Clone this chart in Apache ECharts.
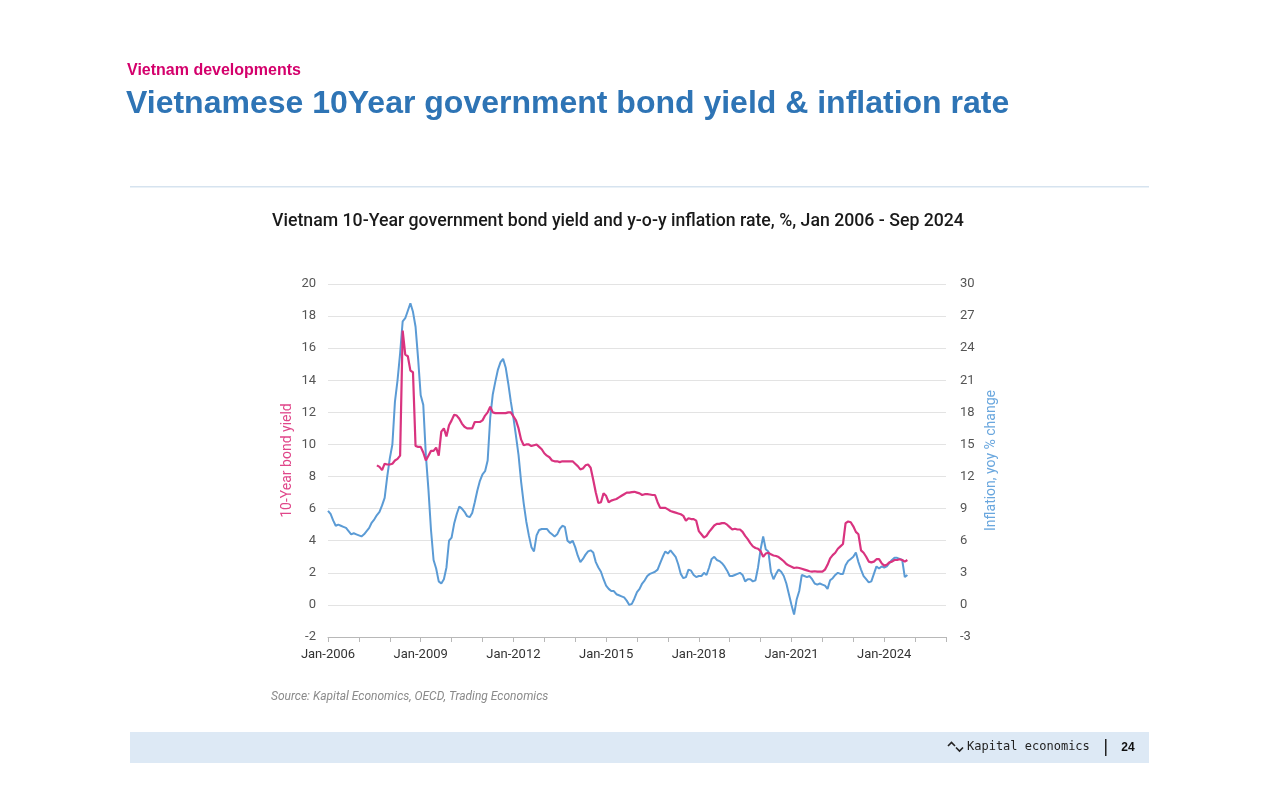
<!DOCTYPE html>
<html>
<head>
<meta charset="utf-8">
<script src="https://cdn.jsdelivr.net/npm/echarts@6/dist/echarts.min.js"></script>
<style>
html,body{margin:0;padding:0;background:#fff;}
#c{width:1280px;height:792px;}
</style>
</head>
<body>
<div id="c"></div>
<script>
// Monthly y-o-y inflation, %, starting Jan 2006
const inflationStart = [2006, 1];
const inflation = [
8.8,8.5,7.9,7.4,7.5,7.4,7.3,7.2,6.9,6.6,6.7,6.6,
6.5,6.4,6.6,6.9,7.2,7.7,8.0,8.4,8.7,9.3,10.0,12.0,
13.7,15.0,19.0,21.0,23.5,26.5,26.8,27.5,28.2,27.4,26.0,23.0,
19.6,18.7,14.0,10.8,7.0,4.2,3.4,2.2,2.0,2.4,3.5,6.0,
6.3,7.6,8.5,9.2,9.0,8.7,8.3,8.2,8.6,9.6,10.7,11.6,
12.2,12.5,13.5,17.5,19.7,20.9,22.0,22.7,23.0,22.2,20.7,19.0,
17.5,15.8,14.0,11.5,9.5,7.8,6.5,5.4,5.0,6.5,7.0,7.1,
7.1,7.1,6.8,6.6,6.4,6.6,7.1,7.4,7.3,6.0,5.8,6.0,
5.4,4.6,4.0,4.3,4.7,5.0,5.1,4.9,4.0,3.5,3.1,2.4,
1.8,1.5,1.3,1.3,1.0,0.9,0.8,0.7,0.4,0.0,0.1,0.6,
1.2,1.5,2.0,2.3,2.7,2.9,3.0,3.1,3.3,3.9,4.5,5.0,
4.8,5.1,4.8,4.5,3.8,2.9,2.5,2.6,3.3,3.2,2.8,2.6,
2.7,2.7,3.0,2.8,3.5,4.3,4.5,4.2,4.1,3.9,3.6,3.2,
2.7,2.7,2.8,2.9,3.0,2.8,2.2,2.4,2.4,2.2,2.3,3.5,
5.2,6.4,5.2,5.0,3.1,2.4,2.9,3.3,3.1,2.7,2.0,1.0,
0.0,-0.9,0.5,1.3,2.8,2.7,2.6,2.7,2.4,2.0,1.9,2.0,
1.9,1.8,1.5,2.3,2.5,2.8,3.0,2.9,2.9,3.7,4.1,4.3,
4.5,4.9,4.0,3.3,2.7,2.4,2.1,2.2,2.9,3.6,3.4,3.6,
3.5,3.6,3.9,4.2,4.4,4.4,4.3,4.2,2.6,2.8
];

// Monthly 10-year government bond yield, %, starting Aug 2007
const bondStart = [2007, 8];
const bondYield = [
8.7,8.6,8.4,8.8,8.75,
8.75,8.8,9.0,9.1,9.3,17.1,15.6,15.5,14.6,14.5,9.9,9.85,
9.85,9.5,9.0,9.3,9.6,9.6,9.8,9.3,10.8,11.0,10.5,11.2,
11.5,11.85,11.8,11.6,11.3,11.1,11.0,11.0,11.0,11.4,11.4,11.4,
11.5,11.8,12.0,12.35,12.0,11.95,11.95,11.95,11.95,11.95,12.0,12.0,
11.75,11.5,11.0,10.3,9.95,10.0,10.0,9.9,9.95,10.0,9.85,9.7,
9.45,9.3,9.2,9.0,8.95,8.95,8.9,8.95,8.95,8.95,8.95,8.95,
8.8,8.65,8.45,8.5,8.7,8.75,8.55,7.8,7.0,6.35,6.4,6.95,
6.8,6.4,6.5,6.55,6.6,6.7,6.8,6.9,7.0,7.0,7.03,7.05,
7.0,6.95,6.85,6.9,6.9,6.88,6.85,6.85,6.4,6.05,6.05,6.05,
5.95,5.85,5.8,5.75,5.7,5.65,5.55,5.25,5.4,5.35,5.35,5.25,
4.6,4.4,4.2,4.3,4.55,4.75,4.95,5.05,5.05,5.1,5.1,5.0,
4.85,4.7,4.75,4.7,4.7,4.55,4.3,4.1,3.85,3.65,3.55,3.5,
3.35,3.0,3.2,3.25,3.15,3.08,3.05,2.98,2.85,2.72,2.55,2.45,
2.38,2.3,2.33,2.3,2.25,2.2,2.15,2.1,2.07,2.1,2.07,2.07,
2.07,2.2,2.5,2.9,3.1,3.25,3.5,3.65,3.8,5.1,5.2,5.15,
4.9,4.55,4.4,3.4,3.25,3.0,2.7,2.65,2.7,2.85,2.85,2.6,
2.45,2.5,2.65,2.7,2.8,2.8,2.85,2.8,2.7,2.8
];

const xMin = 2006, xMax = 2026, labelEvery = 3;
const leftTicks = {min: -2, max: 20, interval: 2};
const rightTicks = {min: -3, max: 30, interval: 3};

function toPairs(start, vals) {
  const base = start[0] + (start[1] - 1) / 12;
  return vals.map((v, i) => [base + i / 12, v]);
}

const PINK = '#d9337f';
const BLUE = '#5b9bd5';
const chart = echarts.init(document.getElementById('c'));
chart.setOption({
  backgroundColor: '#ffffff',
  animation: false,
  grid: {left: 328, right: 334, top: 284, bottom: 155, containLabel: false},
  xAxis: {
    type: 'value', min: xMin, max: xMax, interval: 1,
    axisLine: {show: true, onZero: false, lineStyle: {color: '#b8b8b8', width: 1}},
    axisTick: {show: true, length: 5, lineStyle: {color: '#b8b8b8'}},
    splitLine: {show: false},
    axisLabel: {
      color: '#333', fontSize: 13, fontFamily: 'Roboto', margin: 11,
      formatter: v => ((v - xMin) % labelEvery === 0 ? 'Jan-' + v : '')
    }
  },
  yAxis: [
    {
      type: 'value', min: leftTicks.min, max: leftTicks.max, interval: leftTicks.interval,
      name: '10-Year bond yield', nameLocation: 'middle', nameRotate: 90, nameGap: 34,
      nameTextStyle: {color: '#e0478a', fontSize: 14, fontFamily: 'Roboto'},
      axisLine: {show: false}, axisTick: {show: false},
      splitLine: {show: true, lineStyle: {color: '#e3e3e3', width: 1}},
      axisLabel: {color: '#555', fontSize: 13, fontFamily: 'Roboto', margin: 12}
    },
    {
      type: 'value', min: rightTicks.min, max: rightTicks.max, interval: rightTicks.interval,
      name: 'Inflation, yoy % change', nameLocation: 'middle', nameRotate: 90, nameGap: 38,
      nameTextStyle: {color: '#6aa7de', fontSize: 14, fontFamily: 'Roboto'},
      axisLine: {show: false}, axisTick: {show: false},
      splitLine: {show: false},
      axisLabel: {color: '#555', fontSize: 13, fontFamily: 'Roboto', margin: 14}
    }
  ],
  series: [
    {
      name: 'Inflation', type: 'line', yAxisIndex: 1, showSymbol: false,
      data: toPairs(inflationStart, inflation),
      lineStyle: {color: BLUE, width: 2}, itemStyle: {color: BLUE}
    },
    {
      name: '10-Year bond yield', type: 'line', yAxisIndex: 0, showSymbol: false,
      data: toPairs(bondStart, bondYield),
      lineStyle: {color: PINK, width: 2.2}, itemStyle: {color: PINK}
    }
  ],
  graphic: [
    {type: 'text', x: 127, y: 71, style: {text: 'Vietnam developments', fill: '#d4006c',
      font: 'bold 16px "Liberation Sans", Arial, sans-serif', textVerticalAlign: 'middle'}},
    {type: 'text', x: 126, y: 104, style: {text: 'Vietnamese 10Year government bond yield & inflation rate', fill: '#2e74b5',
      font: 'bold 32px "Liberation Sans", Arial, sans-serif', textVerticalAlign: 'middle'}},
    {type: 'rect', shape: {x: 130, y: 186, width: 1019, height: 1.5}, style: {fill: '#d6e3ef'}},
    {type: 'text', x: 618, y: 222, style: {text: 'Vietnam 10-Year government bond yield and y-o-y inflation rate, %, Jan 2006 - Sep 2024',
      fill: '#1a1a1a', font: '500 17.7px Roboto, sans-serif', textAlign: 'center', textVerticalAlign: 'middle'}},
    {type: 'text', x: 271, y: 697, style: {text: 'Source: Kapital Economics, OECD, Trading Economics',
      fill: '#8a8a8a', font: 'italic 12px Roboto, sans-serif', textVerticalAlign: 'middle'}},
    {type: 'rect', shape: {x: 130, y: 732, width: 1019, height: 31}, style: {fill: '#dde9f5'}},
    {type: 'polyline', shape: {points: [[948, 746], [951.5, 742.5], [955, 746]]}, style: {stroke: '#222', lineWidth: 1.6, fill: null}},
    {type: 'polyline', shape: {points: [[956, 747.5], [959.5, 751], [963, 747.5]]}, style: {stroke: '#222', lineWidth: 1.6, fill: null}},
    {type: 'text', x: 967, y: 747, style: {text: 'Kapital economics', fill: '#222',
      font: '12px "DejaVu Sans Mono", monospace', textVerticalAlign: 'middle'}},
    {type: 'rect', shape: {x: 1105, y: 739, width: 1.5, height: 17}, style: {fill: '#222'}},
    {type: 'text', x: 1128, y: 748, style: {text: '24', fill: '#111',
      font: 'bold 12px "Liberation Sans", Arial, sans-serif', textAlign: 'center', textVerticalAlign: 'middle'}}
  ]
});
</script>
</body>
</html>
